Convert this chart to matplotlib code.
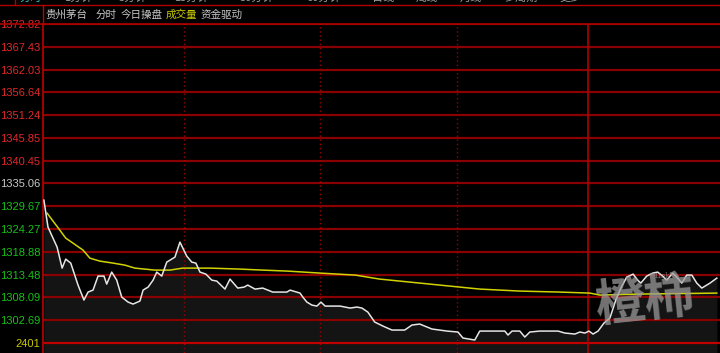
import matplotlib
matplotlib.use("Agg")
import matplotlib.pyplot as plt
from matplotlib.lines import Line2D

# ---- data ----
prev_close = 1335.06
price_ticks = [1372.82, 1367.43, 1362.03, 1356.64, 1351.24, 1345.85, 1340.45,
               1335.06, 1329.67, 1324.27, 1318.88, 1313.48, 1308.09, 1302.69]
vol_label = "2401"

price_min = [0, 0.9, 2.9, 4.0, 4.8, 5.9, 7.5, 8.8, 9.7, 10.8, 11.9, 13.2, 13.8, 14.9,
             16.0, 17.1, 18.5, 19.6, 21.1, 21.8, 22.9, 24.0, 24.8, 25.9, 27.0, 28.8,
             29.9, 31.4, 32.5, 33.4, 34.3, 35.6, 36.9, 38.0, 39.8, 40.9, 42.6, 44.0,
             44.8, 46.4, 48.1, 50.3, 53.4, 54.1, 56.3, 56.9, 57.8, 58.9, 60.0, 60.9,
             61.8, 65.1, 67.3, 68.8, 69.9, 71.2, 72.7, 74.5, 76.5, 79.3, 80.9, 82.6,
             85.3, 88.6, 91.0, 92.1, 94.7, 95.8, 101.3, 102.0, 102.9, 104.6, 105.7,
             106.8, 109.0, 113.0, 114.5, 116.7, 117.8, 118.9, 119.8, 120.7, 121.8,
             123.1, 124.4, 125.7, 126.8, 128.1, 129.5, 130.5, 131.2, 132.5, 133.8,
             134.9, 136.0, 136.9, 138.2, 139.3, 140.2, 141.3, 142.4, 143.5, 144.6,
             146.4, 147.9]
price_val = [1331.11, 1324.71, 1319.98, 1315.00, 1317.13, 1316.19, 1310.98, 1307.43,
             1309.32, 1309.79, 1313.11, 1313.11, 1311.21, 1314.06, 1312.16, 1308.14,
             1306.95, 1306.48, 1307.19, 1309.79, 1310.50, 1312.16, 1314.06, 1313.11,
             1316.42, 1317.61, 1321.16, 1317.84, 1316.42, 1316.19, 1314.06, 1313.58,
             1312.16, 1311.92, 1310.03, 1312.40, 1310.27, 1310.50, 1310.98, 1310.03,
             1310.27, 1309.32, 1309.32, 1309.79, 1309.08, 1308.14, 1306.95, 1306.24,
             1306.00, 1306.95, 1306.00, 1306.00, 1305.53, 1305.77, 1305.53, 1304.58,
             1302.22, 1301.27, 1300.32, 1300.32, 1301.51, 1301.74, 1300.56, 1300.08,
             1299.85, 1298.43, 1297.95, 1300.08, 1300.08, 1299.14, 1300.08, 1300.08,
             1298.66, 1299.85, 1300.08, 1300.08, 1299.61, 1299.37, 1299.85, 1299.61,
             1300.08, 1299.37, 1300.08, 1301.98, 1303.16, 1307.43, 1310.27, 1312.87,
             1313.58, 1312.16, 1311.45, 1313.11, 1313.82, 1314.06, 1313.11, 1312.16,
             1313.82, 1312.63, 1311.45, 1313.35, 1313.35, 1311.45, 1310.27, 1311.45,
             1312.63]

avg_min = [0.7, 3.5, 4.8, 6.4, 8.6, 10.1, 12.3, 15.2, 17.8, 20.0, 24.4, 27.7, 30.5,
           36.5, 43.1, 48.1, 53.6, 60.7, 68.4, 73.8, 80.4, 89.2, 95.8, 104.6, 113.4,
           120.0, 122.2, 131.0, 147.9]
avg_val = [1328.03, 1324.00, 1322.11, 1320.92, 1319.27, 1317.37, 1316.66, 1316.19,
           1315.71, 1315.00, 1314.53, 1314.53, 1315.00, 1315.00, 1314.77, 1314.53,
           1314.29, 1313.82, 1313.35, 1312.40, 1311.69, 1310.74, 1310.03, 1309.56,
           1309.32, 1309.08, 1308.61, 1308.85, 1309.08]

title_parts = ["贵州茅台", "分时", "今日操盘", "成交量", "资金驱动"]
title_colors = ["#c8c8c8", "#c8c8c8", "#c8c8c8", "#c8c800", "#c8c8c8"]
tab_labels = ["分时", "1分钟", "5分钟", "15分钟", "30分钟", "60分钟", "日线", "周线", "月线", "多周期", "更多"]

# ---- figure ----
W, H = 720, 353
fig = plt.figure(figsize=(W / 100, H / 100), dpi=100, facecolor="black")
ax = fig.add_axes([43 / W, 0, 1 - 43 / W, (H - 24) / H], facecolor="black")

step = (price_ticks[0] - prev_close) / 7
ytop = price_ticks[0]
ybot = ytop - 329 / 22.77 * step
ax.set_ylim(ybot, ytop + 0.05)
ax.set_xlim(-0.2, 148.6)

# horizontal grid
for v in price_ticks:
    ax.axhline(v, color="#8a0000", lw=1.6, zorder=2)
vol_line = prev_close - 7 * step
ax.axhline(vol_line, color="#c00000", lw=1.6, zorder=2)
# vertical grid
for t in [30.8, 60.7, 90.8]:
    ax.axvline(t, color="#9a0000", lw=1.0, ls=(0, (1, 2)), zorder=2)
ax.axvline(119.6, color="#b00000", lw=1.2, zorder=2)

# price fill + lines
ax.fill_between(price_min, price_val, ybot, color="#141414", zorder=1, lw=0)
ax.plot(avg_min, avg_val, color="#d2d200", lw=1.1, zorder=3)
ax.plot(price_min, price_val, color="#e6e6e6", lw=1.1, zorder=4)

# y tick labels
ax.set_xticks([])
ticks = price_ticks + [vol_line]
labels = [f"{v:.2f}" for v in price_ticks] + [vol_label]
ax.set_yticks(ticks)
ax.set_yticklabels(labels, fontfamily="Liberation Sans", fontsize=8)
ax.tick_params(axis="y", length=0, pad=2)
for lab, v in zip(ax.get_yticklabels(), ticks):
    if v == vol_line:
        lab.set_color("#c8c800")
    elif abs(v - prev_close) < 1e-6:
        lab.set_color("#c8c8c8")
    elif v > prev_close:
        lab.set_color("#e02828")
    else:
        lab.set_color("#18c018")

for s in ["top", "right", "bottom"]:
    ax.spines[s].set_visible(False)
ax.spines["left"].set_color("#c00000")
ax.spines["left"].set_linewidth(1.2)

# top band lines
fig.add_artist(Line2D([0, 1], [1 - 5 / H, 1 - 5 / H], color="#b00000", lw=1.0))
fig.add_artist(Line2D([0, 1], [1 - 24 / H, 1 - 24 / H], color="#b00000", lw=1.2))
fig.add_artist(Line2D([43 / W, 43 / W], [1 - 24 / H, 1 - 5 / H], color="#c00000", lw=1.0))
fig.add_artist(Line2D([15 / W, 15 / W], [1 - 5 / H, 1], color="#b00000", lw=1.0))

# cut-off tab labels at top
cjk = ["Noto Sans CJK SC", "DejaVu Sans"]
tx = 20
for i, t in enumerate(tab_labels):
    fig.text(tx / W, 1 - 3 / H, t, color="#30c8c8" if i == 0 else "#a0a0a0",
             fontsize=8, family=cjk, va="bottom", ha="left")
    tx += 22 + 11 * len(t)

# title
xs = [45, 96, 121, 166, 201]
for x, t, c in zip(xs, title_parts, title_colors):
    fig.text(x / W, 1 - 15 / H, t, color=c, fontsize=7.6, family=cjk, va="center", ha="left")

# watermark
fig.text(645 / W, 1 - 302 / H, "橙柿", color="#9a9a9a", alpha=0.75, fontsize=36,
         family=cjk, fontweight="bold", ha="center", va="center", rotation=6)
fig.text(662 / W, 1 - 276 / H, "Link", color="#9a9a9a", alpha=0.7, fontsize=5,
         family=["DejaVu Serif"], ha="center", va="center")

fig.savefig("out.png", dpi=100, facecolor="black")
